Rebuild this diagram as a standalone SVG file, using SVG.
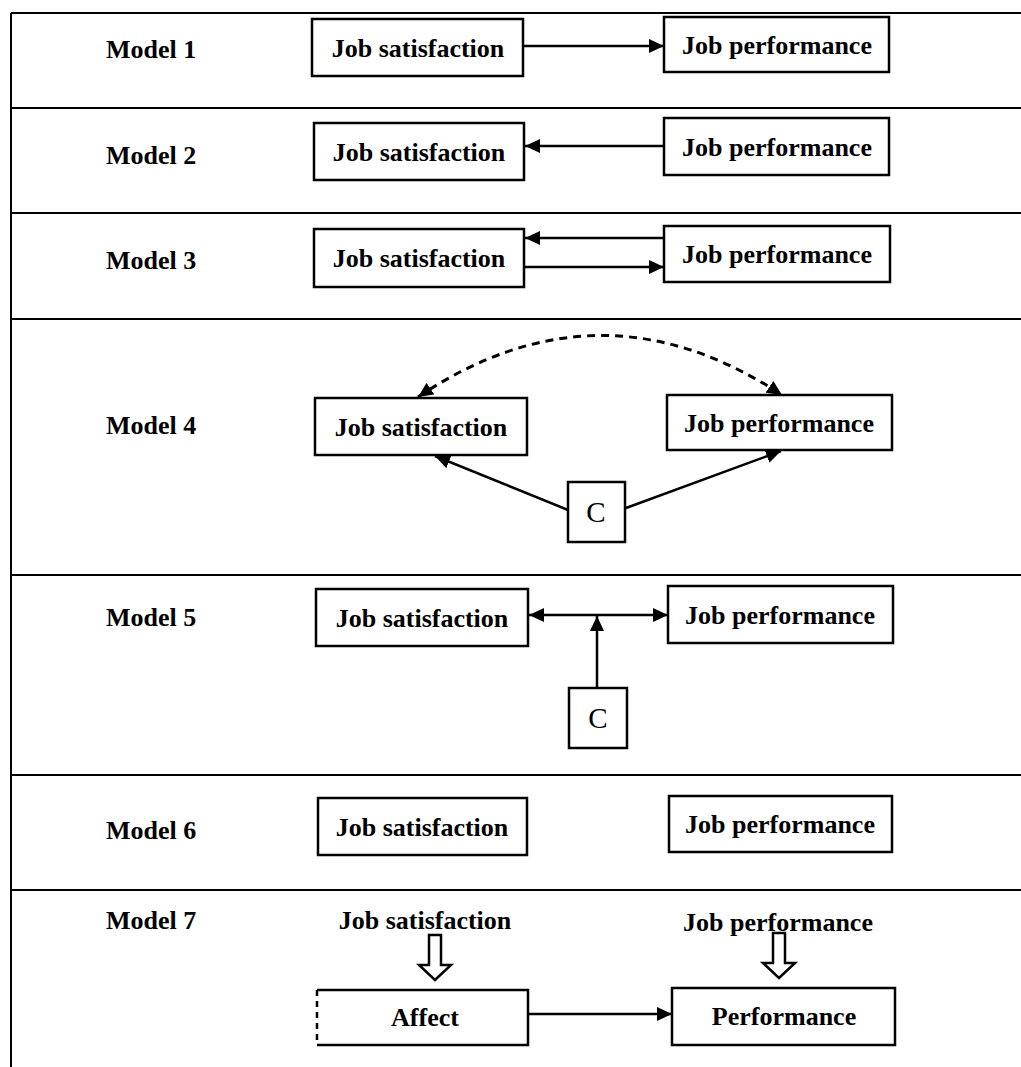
<svg xmlns="http://www.w3.org/2000/svg" width="1021" height="1067" viewBox="0 0 1021 1067">
<style>
.t{font-family:"Liberation Serif","Times New Roman",serif;font-weight:bold;font-size:26px;fill:#000}
.c{font-family:"Liberation Serif","Times New Roman",serif;font-size:29px;fill:#000}
.m{text-anchor:middle}
.box{fill:#fff;stroke:#000;stroke-width:2.5}
.grid{stroke:#000;stroke-width:2;fill:none}
.ln{stroke:#000;stroke-width:2.5;fill:none}
.dash{stroke:#000;stroke-width:3;fill:none;stroke-dasharray:8 6}
.hol{fill:#fff;stroke:#000;stroke-width:2.5;stroke-linejoin:miter}
</style>
<defs>
<marker id="ah" markerUnits="userSpaceOnUse" markerWidth="16" markerHeight="14" refX="15" refY="7" orient="auto-start-reverse">
<path d="M0,0 L15,7 L0,14 z" fill="#000"/>
</marker>
</defs>
<rect width="1021" height="1067" fill="#fff"/>
<g id="grid">
<path class="grid" d="M11,13 V1067 M11,13 H1021 M11,108 H1021 M11,213 H1021 M11,319 H1021 M11,575 H1021 M11,775 H1021 M11,890 H1021"/>
</g>
<g id="labels">
<text class="t" x="106" y="58">Model 1</text>
<text class="t" x="106" y="164">Model 2</text>
<text class="t" x="106" y="269">Model 3</text>
<text class="t" x="106" y="434">Model 4</text>
<text class="t" x="106" y="626">Model 5</text>
<text class="t" x="106" y="839">Model 6</text>
<text class="t" x="106" y="929">Model 7</text>
</g>
<g id="connectors">
<line class="ln" x1="524" y1="46" x2="664" y2="46" marker-end="url(#ah)"/>
<line class="ln" x1="664" y1="146" x2="525" y2="146" marker-end="url(#ah)"/>
<line class="ln" x1="664" y1="238" x2="525" y2="238" marker-end="url(#ah)"/>
<line class="ln" x1="525" y1="267" x2="664" y2="267" marker-end="url(#ah)"/>
<path class="dash" d="M418,397 Q600,275 782,395" marker-start="url(#ah)" marker-end="url(#ah)"/>
<line class="ln" x1="568" y1="510" x2="435" y2="456" marker-end="url(#ah)"/>
<line class="ln" x1="626" y1="508" x2="781" y2="451" marker-end="url(#ah)"/>
<line class="ln" x1="529" y1="615" x2="668" y2="615" marker-start="url(#ah)" marker-end="url(#ah)"/>
<line class="ln" x1="597" y1="688" x2="597" y2="616" marker-end="url(#ah)"/>
<line class="ln" x1="529" y1="1014" x2="672" y2="1014" marker-end="url(#ah)"/>
<path class="hol" d="M429,935 H441 V965 H451 L435,980 L419,965 H429 Z"/>
<path class="hol" d="M773,933 H785 V963 H795 L779,978 L763,963 H773 Z"/>
</g>
<g id="m1-js"><rect class="box" x="312" y="19" width="211" height="57"/><text class="t m" x="418" y="57">Job satisfaction</text></g>
<g id="m1-jp"><rect class="box" x="664" y="17" width="225" height="55"/><text class="t m" x="777" y="54">Job performance</text></g>
<g id="m2-js"><rect class="box" x="314" y="123" width="210" height="57"/><text class="t m" x="419" y="161">Job satisfaction</text></g>
<g id="m2-jp"><rect class="box" x="664" y="118" width="225" height="57"/><text class="t m" x="777" y="156">Job performance</text></g>
<g id="m3-js"><rect class="box" x="314" y="229" width="210" height="58"/><text class="t m" x="419" y="267">Job satisfaction</text></g>
<g id="m3-jp"><rect class="box" x="664" y="226" width="226" height="56"/><text class="t m" x="777" y="263">Job performance</text></g>
<g id="m4-js"><rect class="box" x="315" y="398" width="212" height="57"/><text class="t m" x="421" y="436">Job satisfaction</text></g>
<g id="m4-jp"><rect class="box" x="667" y="395" width="225" height="55"/><text class="t m" x="779" y="432">Job performance</text></g>
<g id="m4-c"><rect class="box" x="568" y="482" width="57" height="60"/><text class="c m" x="596" y="522">C</text></g>
<g id="m5-js"><rect class="box" x="316" y="589" width="212" height="57"/><text class="t m" x="422" y="627">Job satisfaction</text></g>
<g id="m5-jp"><rect class="box" x="668" y="586" width="225" height="57"/><text class="t m" x="780" y="624">Job performance</text></g>
<g id="m5-c"><rect class="box" x="569" y="688" width="58" height="60"/><text class="c m" x="598" y="728">C</text></g>
<g id="m6-js"><rect class="box" x="318" y="798" width="209" height="57"/><text class="t m" x="422" y="836">Job satisfaction</text></g>
<g id="m6-jp"><rect class="box" x="669" y="796" width="223" height="56"/><text class="t m" x="780" y="833">Job performance</text></g>
<g id="m7-js"><text class="t m" x="425" y="929">Job satisfaction</text></g>
<g id="m7-jp"><text class="t m" x="778" y="931">Job performance</text></g>
<g id="m7-affect"><rect x="317" y="990" width="211" height="55" fill="#fff"/><path class="ln" d="M317,990 H528 V1045 H317"/><path d="M317,990 V1045" stroke="#000" stroke-width="2.5" stroke-dasharray="6 5"/><text class="t m" x="425" y="1026">Affect</text></g>
<g id="m7-perf"><rect class="box" x="672" y="988" width="223" height="57"/><text class="t m" x="784" y="1025">Performance</text></g>
</svg>
